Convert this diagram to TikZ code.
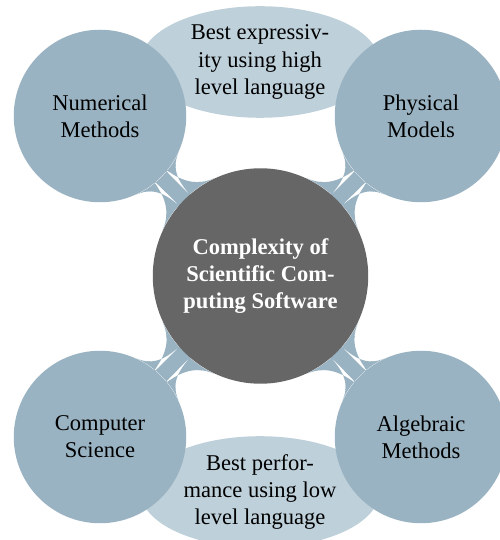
\documentclass[tikz,border=0pt]{standalone}
\usepackage{fontspec}
\setmainfont{Liberation Serif}
\usetikzlibrary{mindmap}
\usetikzlibrary{shapes.geometric}
\usetikzlibrary{backgrounds}
\definecolor{topicblue}{RGB}{154,179,194}
\definecolor{noteblue}{RGB}{190,208,218}
\definecolor{rootgray}{RGB}{102,102,102}

\begin{document}
\begin{tikzpicture}[x=0.0156cm,y=0.0156cm,
    root node/.style={circle,fill=rootgray,text=white,font=\bfseries,align=center,minimum size=3.36cm,inner sep=0pt},
    topic node/.style={circle,fill=topicblue,align=center,minimum size=2.69cm,inner sep=0pt},
    note node/.style={ellipse,fill=noteblue,align=center,minimum width=3.72cm,minimum height=1.74cm,inner sep=0pt},
    bar/.style={circle connection bar switch color=from (topicblue) to (topicblue)}]
  \useasboundingbox (0,0) rectangle (499,540);
  \begin{scope}
    % notes between the topics
    \node[note node] (high) at (260,478) {Best expressiv-\\ity using high\\level language};
    \node[note node] (low) at (260,48) {Best perfor-\\mance using low\\level language};
    % topics
    \node[topic node] (num) at (100,424) {Numerical\\Methods};
    \node[topic node] (phys) at (421,424) {Physical\\Models};
    \node[topic node] (comp) at (100,103) {Computer\\Science};
    \node[topic node] (alg) at (421,103) {Algebraic\\Methods};
    \node[root node] (root) at (260.5,264) {Complexity of\\Scientific Com-\\puting Software};
    \begin{pgfonlayer}{background}
      \path (root) to[bar] (num);
      \path (root) to[bar] (phys);
      \path (root) to[bar] (comp);
      \path (root) to[bar] (alg);
    \end{pgfonlayer}
  \end{scope}
\end{tikzpicture}
\end{document}
